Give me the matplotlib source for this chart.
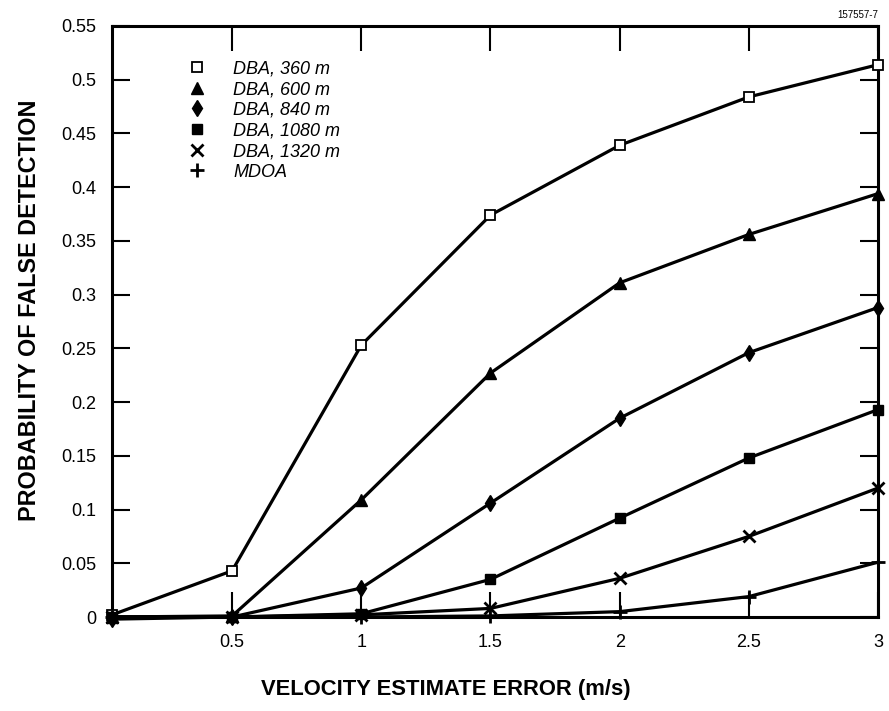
import matplotlib
matplotlib.use("Agg")
import matplotlib.pyplot as plt
from matplotlib.lines import Line2D

# ---- data ----
x_vals = [0.035, 0.5, 1.0, 1.5, 2.0, 2.5, 3.0]
dba_360 = [0.002, 0.043, 0.253, 0.374, 0.439, 0.484, 0.514]
dba_600 = [0.0, 0.001, 0.109, 0.227, 0.311, 0.356, 0.394]
dba_840 = [-0.002, 0.0, 0.027, 0.106, 0.185, 0.246, 0.288]
dba_1080 = [0.0, 0.0, 0.003, 0.035, 0.092, 0.148, 0.193]
dba_1320 = [0.0, 0.0, 0.002, 0.008, 0.036, 0.075, 0.120]
mdoa = [0.0, 0.0, 0.0, 0.001, 0.005, 0.019, 0.051]

series_labels = ["DBA, 360 m", "DBA, 600 m", "DBA, 840 m",
                 "DBA, 1080 m", "DBA, 1320 m", "MDOA"]
x_ticks = [0.5, 1, 1.5, 2, 2.5, 3]
x_tick_labels = ["0.5", "1", "1.5", "2", "2.5", "3"]
y_ticks = [0, 0.05, 0.1, 0.15, 0.2, 0.25, 0.3, 0.35, 0.4, 0.45, 0.5, 0.55]
y_tick_labels = ["0", "0.05", "0.1", "0.15", "0.2", "0.25", "0.3",
                 "0.35", "0.4", "0.45", "0.5", "0.55"]

plt.rcParams['font.family'] = ['Liberation Sans', 'DejaVu Sans']

fig = plt.figure(figsize=(8.89, 7.11), dpi=100)
ax = fig.add_axes([112 / 889, (711 - 617) / 711, 766 / 889, 591 / 711])

styles = [
    dict(marker='s', markersize=7, markerfacecolor='white', markeredgecolor='black', markeredgewidth=1.3),
    dict(marker='^', markersize=8.5, markerfacecolor='black', markeredgecolor='black'),
    dict(marker='d', markersize=8.5, markerfacecolor='black', markeredgecolor='black'),
    dict(marker='s', markersize=7, markerfacecolor='black', markeredgecolor='black'),
    dict(marker='x', markersize=8, markeredgewidth=2, markeredgecolor='black'),
    dict(marker='+', markersize=10, markeredgewidth=2, markeredgecolor='black'),
]
all_series = [dba_360, dba_600, dba_840, dba_1080, dba_1320, mdoa]

for ys, st in zip(all_series, styles):
    ax.plot(x_vals, ys, color='black', linewidth=2.3, clip_on=False, zorder=3, **st)

ax.set_xlim(0.035, 3.0)
ax.set_ylim(0, 0.55)
ax.set_xticks(x_ticks)
ax.set_xticklabels(x_tick_labels)
ax.set_yticks(y_ticks)
ax.set_yticklabels(y_tick_labels)

ax.tick_params(axis='both', direction='in', top=True, right=True, labelsize=13, colors='black')
ax.tick_params(axis='y', length=13, width=1.5, pad=11)
ax.tick_params(axis='x', length=18, width=1.5, pad=12)
for sp in ax.spines.values():
    sp.set_linewidth(2.2)

ax.set_xlabel("VELOCITY ESTIMATE ERROR (m/s)", fontsize=15.8, fontweight='bold')
ax.set_ylabel("PROBABILITY OF FALSE DETECTION", fontsize=16.8, fontweight='bold')
# label centres (axes fraction)
ax.xaxis.set_label_coords((446 - 112) / 766, -(690 - 617) / 591)
ax.yaxis.set_label_coords(-(112 - 30) / 766, (617 - 310) / 591)
ax.xaxis.label.set_va('center')
ax.yaxis.label.set_va('center')

handles = []
for st in styles:
    handles.append(Line2D([], [], linestyle='none', color='black', **st))
leg = ax.legend(handles, series_labels, loc='upper left',
                bbox_to_anchor=(0.097, 0.9415), frameon=False,
                prop=dict(style='italic', size=13),
                handlelength=1.2, handletextpad=1.4, labelspacing=0.20,
                borderaxespad=0, borderpad=0)

fig.text(878 / 889, 1 - 15 / 711, "157557-7", fontsize=7, ha='right', va='center')

fig.savefig("out.png", dpi=100)
